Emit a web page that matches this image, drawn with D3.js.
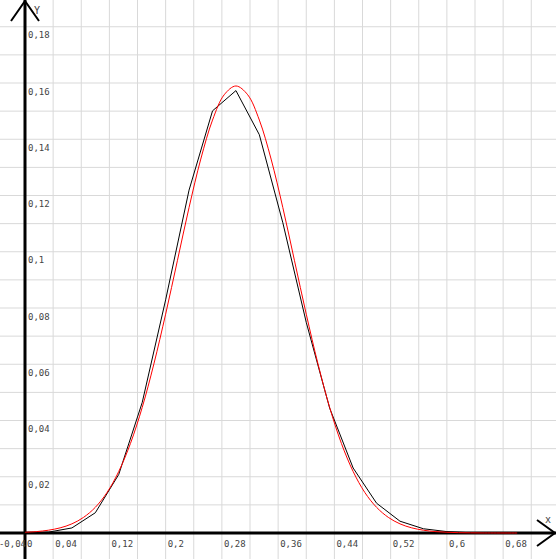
<!DOCTYPE html>
<html>
<head>
<meta charset="utf-8">
<script src="https://cdn.jsdelivr.net/npm/d3@7"></script>
<style>
  body { margin: 0; background: white; }
  text { font-family: "DejaVu Sans Mono", monospace; font-size: 9px; fill: #444; }
</style>
</head>
<body>
<script>
var width = 556, height = 559;

// black polyline: values at x = k/30
let blackX = [0, 0.0333, 0.0667, 0.1, 0.1333, 0.1667, 0.2, 0.2333, 0.2667, 0.3, 0.3333, 0.3667,
              0.4, 0.4333, 0.4667, 0.5, 0.5333, 0.5667, 0.6, 0.6333, 0.6667, 0.7, 0.7333]
let blackY = [0.0000, 0.0003, 0.0018, 0.0072, 0.0208, 0.0464, 0.0829, 0.1219, 0.1501, 0.1573, 0.1416, 0.1103,
              0.0749, 0.0444, 0.0231, 0.0106, 0.0042, 0.0015, 0.0005, 0.0001, 0.0000, 0.0000, 0.0000]

// red smooth curve samples
let redX = [0, 0.0167, 0.0333, 0.05, 0.0667, 0.0833, 0.1, 0.1167, 0.1333, 0.15, 0.1667, 0.1833,
            0.2, 0.2167, 0.2333, 0.25, 0.2667, 0.2833, 0.3, 0.3167, 0.3333, 0.35, 0.3667, 0.3833,
            0.4, 0.4167, 0.4333, 0.45, 0.4667, 0.4833, 0.5, 0.5167, 0.5333, 0.55, 0.5667, 0.5833,
            0.6, 0.6167, 0.6333, 0.65, 0.6667, 0.7]
let redY = [0.00026, 0.00051, 0.00099, 0.00183, 0.00325, 0.00556, 0.00913, 0.01441, 0.02186, 0.03186, 0.04464, 0.06012,
            0.07781, 0.09679, 0.11570, 0.13295, 0.14682, 0.15582, 0.15894, 0.15582, 0.14682, 0.13295, 0.11570, 0.09679,
            0.07781, 0.06012, 0.04464, 0.03186, 0.02186, 0.01441, 0.00913, 0.00556, 0.00325, 0.00183, 0.00099, 0.00051,
            0.00026, 0.00012, 0.00006, 0.00002, 0.00001, 0.00000]

let xTickValues = [-0.04, 0, 0.04, 0.12, 0.2, 0.28, 0.36, 0.44, 0.52, 0.6, 0.68]
let xTickLabels = ["-0,04", "0", "0,04", "0,12", "0,2", "0,28", "0,36", "0,44", "0,52", "0,6", "0,68"]
let yTickValues = [0.02, 0.04, 0.06, 0.08, 0.1, 0.12, 0.14, 0.16, 0.18]
let yTickLabels = ["0,02", "0,04", "0,06", "0,08", "0,1", "0,12", "0,14", "0,16", "0,18"]

let xScale = d3.scaleLinear().domain([0, 0.68]).range([25, 503.125])
let yScale = d3.scaleLinear().domain([0, 0.18]).range([533, 26.75])

let svg = d3.select("body")
    .append("svg")
    .attr("width", width)
    .attr("height", height)

// grid: vertical every 0.04, horizontal every 0.01
let xGrid = d3.range(-1, 20).map(i => i * 0.04)
let yGrid = d3.range(-1, 20).map(i => i * 0.01)

svg.append("g")
    .selectAll("line")
    .data(xGrid)
    .enter()
    .append("line")
    .attr("x1", d => xScale(d)).attr("x2", d => xScale(d))
    .attr("y1", 0).attr("y2", height)
    .attr("stroke", "#d9d9d9")
    .attr("stroke-width", 1)

svg.append("g")
    .selectAll("line")
    .data(yGrid)
    .enter()
    .append("line")
    .attr("y1", d => yScale(d)).attr("y2", d => yScale(d))
    .attr("x1", 0).attr("x2", width)
    .attr("stroke", "#d9d9d9")
    .attr("stroke-width", 1)

// axes
let ox = xScale(0), oy = yScale(0)
svg.append("line")
    .attr("x1", 0).attr("x2", width).attr("y1", oy).attr("y2", oy)
    .attr("stroke", "black").attr("stroke-width", 3)
svg.append("line")
    .attr("x1", ox).attr("x2", ox).attr("y1", 0).attr("y2", height)
    .attr("stroke", "black").attr("stroke-width", 3)

// arrow heads
svg.append("path")
    .attr("d", "M" + (width - 19) + "," + (oy - 13) + "L" + (width - 1) + "," + oy + "L" + (width - 19) + "," + (oy + 13))
    .attr("fill", "none").attr("stroke", "black").attr("stroke-width", 2)
svg.append("path")
    .attr("d", "M" + (ox - 14) + ",21L" + ox + ",1L" + (ox + 14) + ",21")
    .attr("fill", "none").attr("stroke", "black").attr("stroke-width", 2)

svg.append("text").attr("x", 545).attr("y", 523).style("font-size", "10px").text("x")
svg.append("text").attr("x", 34).attr("y", 14).style("font-size", "10px").text("Y")

// tick labels
svg.append("g")
    .selectAll("text")
    .data(xTickValues)
    .enter()
    .append("text")
    .attr("x", d => xScale(d) + 2)
    .attr("y", oy + 13.5)
    .text((d, i) => xTickLabels[i])

svg.append("g")
    .selectAll("text")
    .data(yTickValues)
    .enter()
    .append("text")
    .attr("x", ox + 3)
    .attr("y", d => yScale(d) + 11.5)
    .text((d, i) => yTickLabels[i])

// curves
let blackLine = d3.line()
    .x((d, i) => xScale(blackX[i]))
    .y(d => yScale(d))
svg.append("path")
    .datum(blackY)
    .attr("d", blackLine)
    .attr("fill", "none")
    .attr("stroke", "black")
    .attr("stroke-width", 1)

let redLine = d3.line()
    .x((d, i) => xScale(redX[i]))
    .y(d => yScale(d))
    .curve(d3.curveCatmullRom)
svg.append("path")
    .datum(redY)
    .attr("d", redLine)
    .attr("fill", "none")
    .attr("stroke", "red")
    .attr("stroke-width", 1)
</script>
</body>
</html>
